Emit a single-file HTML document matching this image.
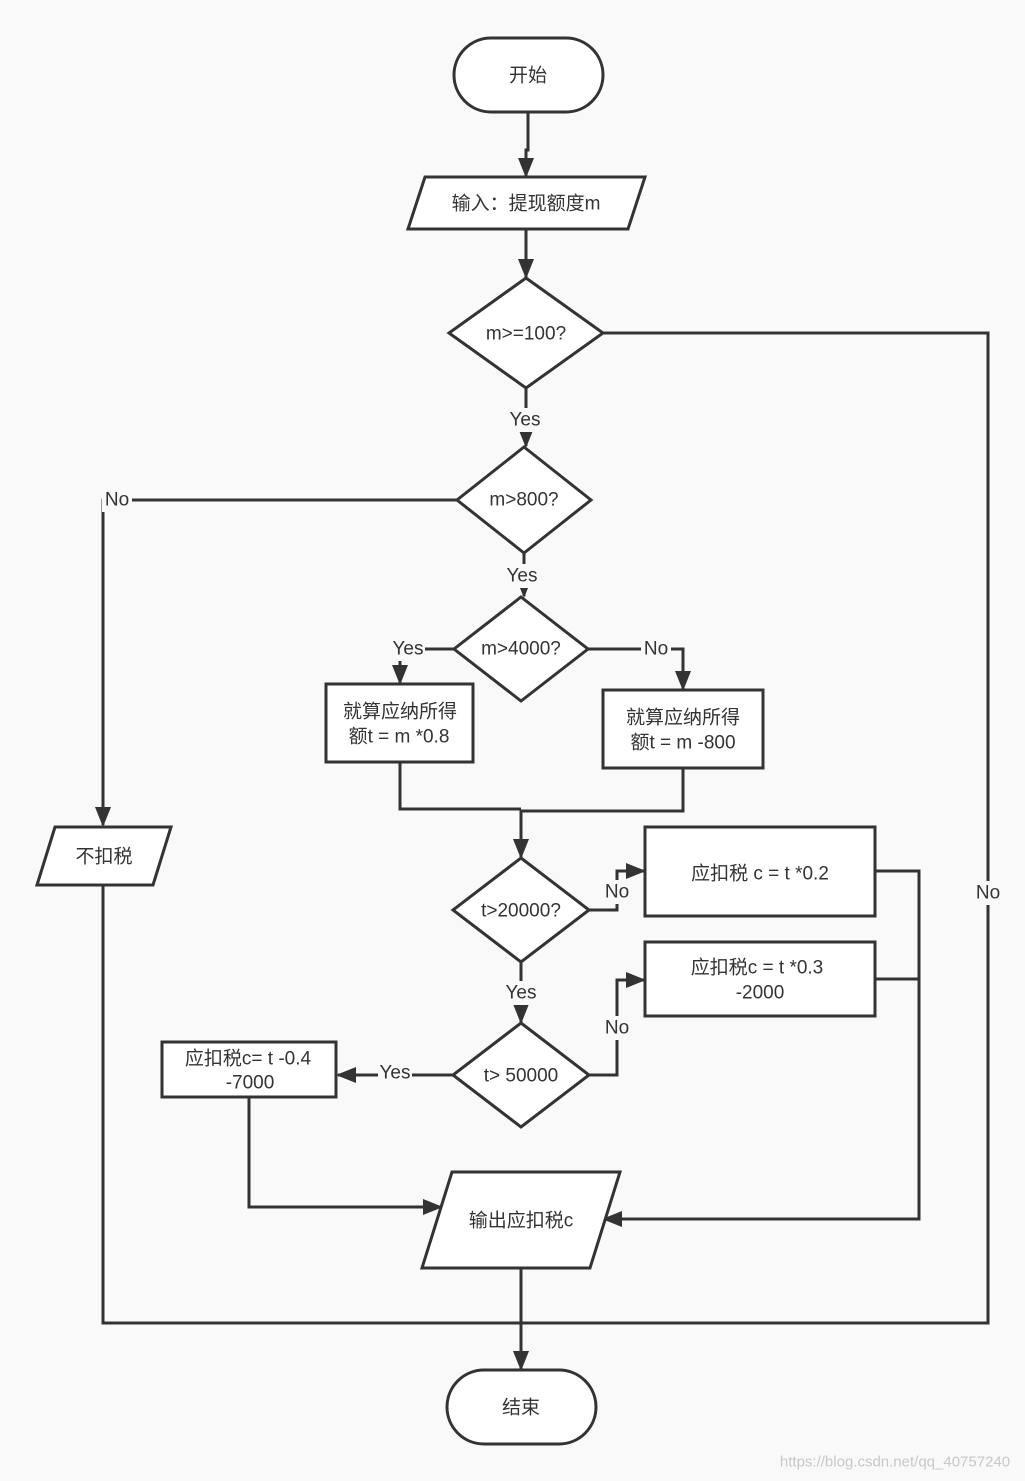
<!DOCTYPE html>
<html><head><meta charset="utf-8"><style>
html,body{margin:0;padding:0;background:#f9f9f9;}
svg{display:block;}
text{font-family:"Liberation Sans","Noto Sans CJK SC",sans-serif;font-size:19px;fill:#333;text-anchor:middle;dominant-baseline:central;}
.l{stroke:#333;stroke-width:3;fill:none;}
.s{stroke:#333;stroke-width:3;fill:#fff;}
.lb{fill:#f9f9f9;}
</style></head><body>
<svg width="1025" height="1481" viewBox="0 0 1025 1481" xmlns="http://www.w3.org/2000/svg">
<defs><marker id="a" markerWidth="10" markerHeight="10" refX="9" refY="5" orient="auto" markerUnits="userSpaceOnUse" viewBox="0 0 10 10"><path d="M0,0 L10,5 L0,10 z" fill="#333"/></marker>
<marker id="b" markerWidth="20" markerHeight="20" refX="18" refY="10" orient="auto" markerUnits="userSpaceOnUse" viewBox="0 0 20 20"><path d="M0,2 L20,10 L0,18 z" fill="#333"/></marker></defs>

<!-- connectors -->
<path class="l" d="M528,112 V150 H526 V176" marker-end="url(#b)"/>
<path class="l" d="M526,229 V277" marker-end="url(#b)"/>
<path class="l" d="M603,333 H988 V1323 H520"/>
<path class="l" d="M526,388 V446" marker-end="url(#b)"/>
<path class="l" d="M457,500 H103 V825" marker-end="url(#b)"/>
<path class="l" d="M524,553 V596" marker-end="url(#b)"/>
<path class="l" d="M454,649 H400 V683" marker-end="url(#b)"/>
<path class="l" d="M588,649 H683 V689" marker-end="url(#b)"/>
<path class="l" d="M400,762 V809 H521"/>
<path class="l" d="M683,768 V811 H521 V857" marker-end="url(#b)"/>
<path class="l" d="M589,910 H617 V871 H644" marker-end="url(#b)"/>
<path class="l" d="M521,962 V1022" marker-end="url(#b)"/>
<path class="l" d="M589,1075 H617 V980 H644" marker-end="url(#b)"/>
<path class="l" d="M453,1075 H338" marker-end="url(#b)"/>
<path class="l" d="M249,1097 V1207 H441" marker-end="url(#b)"/>
<path class="l" d="M875,871 H919 V1219 H604" marker-end="url(#b)"/>
<path class="l" d="M875,979 H919"/>
<path class="l" d="M521,1268 V1369" marker-end="url(#b)"/>
<path class="l" d="M103,885 V1323 H520"/>

<!-- shapes -->
<rect class="s" x="454" y="38" width="149" height="74" rx="37"/>
<text x="528" y="76">开始</text>
<polygon class="s" points="425,177 645,177 628,229 408,229"/>
<text x="526" y="204">输入：提现额度m</text>
<polygon class="s" points="526,278 603,333 526,388 449,333"/>
<text x="526" y="334">m&gt;=100?</text>
<polygon class="s" points="524,447 591,500 524,553 457,500"/>
<text x="524" y="500">m&gt;800?</text>
<polygon class="s" points="521,597 588,649 521,701 454,649"/>
<text x="521" y="649">m&gt;4000?</text>
<rect class="s" x="326" y="684" width="147" height="78"/>
<text x="400" y="712">就算应纳所得</text>
<text x="399" y="737">额t = m *0.8</text>
<rect class="s" x="603" y="690" width="160" height="78"/>
<text x="683" y="718">就算应纳所得</text>
<text x="683" y="743">额t = m -800</text>
<polygon class="s" points="521,858 589,910 521,962 453,910"/>
<text x="521" y="911">t&gt;20000?</text>
<rect class="s" x="645" y="827" width="230" height="89"/>
<text x="760" y="874">应扣税 c = t *0.2</text>
<polygon class="s" points="521,1023 589,1075 521,1127 453,1075"/>
<text x="521" y="1076">t&gt; 50000</text>
<rect class="s" x="645" y="942" width="230" height="74"/>
<text x="757" y="968">应扣税c = t *0.3</text>
<text x="760" y="993">-2000</text>
<rect class="s" x="162" y="1042" width="174" height="55"/>
<text x="248" y="1059">应扣税c= t -0.4</text>
<text x="250" y="1083">-7000</text>
<polygon class="s" points="452,1172 620,1172 590,1268 422,1268"/>
<text x="521" y="1221">输出应扣税c</text>
<polygon class="s" points="55,827 171,827 153,885 37,885"/>
<text x="104" y="857">不扣税</text>
<rect class="s" x="447" y="1370" width="149" height="74" rx="37"/>
<text x="521" y="1408">结束</text>

<!-- labels -->
<rect class="lb" x="508" y="408" width="34" height="24"/><text x="525" y="420">Yes</text>
<rect class="lb" x="506" y="564" width="34" height="24"/><text x="522" y="576">Yes</text>
<rect class="lb" x="102" y="488" width="30" height="24"/><text x="117" y="500">No</text>
<rect class="lb" x="391" y="637" width="34" height="24"/><text x="408" y="649">Yes</text>
<rect class="lb" x="641" y="637" width="30" height="24"/><text x="656" y="649">No</text>
<rect class="lb" x="602" y="880" width="30" height="24"/><text x="617" y="892">No</text>
<rect class="lb" x="504" y="981" width="34" height="24"/><text x="521" y="993">Yes</text>
<rect class="lb" x="602" y="1016" width="30" height="24"/><text x="617" y="1028">No</text>
<rect class="lb" x="378" y="1061" width="34" height="24"/><text x="395" y="1073">Yes</text>
<rect class="lb" x="973" y="881" width="30" height="24"/><text x="988" y="893">No</text>

<text x="895" y="1462" style="font-size:15px;fill:#c8c8c8;">https://blog.csdn.net/qq_40757240</text>
</svg>
</body></html>
